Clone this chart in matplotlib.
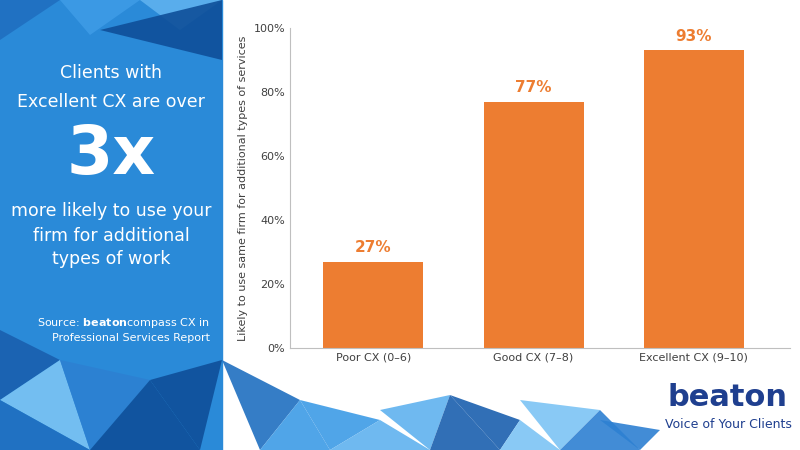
import matplotlib
matplotlib.use("Agg")
import matplotlib.pyplot as plt
from matplotlib.patches import Polygon, Rectangle

categories = ["Poor CX (0–6)", "Good CX (7–8)", "Excellent CX (9–10)"]
values = [27, 77, 93]
yticks = [0, 20, 40, 60, 80, 100]

fig = plt.figure(figsize=(8, 4.5), dpi=100)
W, H = 800, 450
def fx(x): return x / W
def fy(y): return 1 - y / H

fig.patches.append(Rectangle((0, 0), fx(222), 1, transform=fig.transFigure, color="#2a8ad8", zorder=0))
tris = [
    [(0,0),(60,0),(0,40)], [(60,0),(140,0),(90,35)], [(140,0),(222,0),(180,30)],
    [(0,330),(60,360),(0,400)], [(0,400),(60,360),(90,450)], [(60,360),(150,380),(90,450)],
    [(150,380),(222,360),(200,450)], [(222,360),(300,400),(260,450)], [(300,400),(380,420),(330,450)],
    [(380,410),(450,395),(430,450)], [(450,395),(520,420),(500,450)], [(520,400),(600,410),(560,450)],
    [(600,420),(660,430),(640,450)], [(90,450),(150,380),(200,450)], [(0,450),(0,400),(90,450)],
    [(260,450),(300,400),(330,450)], [(330,450),(380,420),(430,450)], [(430,450),(450,395),(500,450)],
    [(500,450),(520,420),(560,450)], [(560,450),(600,410),(640,450)], [(100,30),(222,0),(222,60)],
]
cols = ["#1f6fc0", "#3d9be6", "#5fb2ef", "#1a5fae", "#7cc4f4", "#2d80d2", "#0f4f99"]
for i, t in enumerate(tris):
    fig.patches.append(Polygon([(fx(x), fy(y)) for x, y in t], closed=True, transform=fig.transFigure,
                               color=cols[i % len(cols)], alpha=0.9, zorder=1, lw=0))

tc = "white"
fs = 12.5
fig.text(fx(111), fy(73), "Clients with", color=tc, fontsize=fs, ha="center", va="center")
fig.text(fx(111), fy(102), "Excellent CX are over", color=tc, fontsize=fs, ha="center", va="center")
fig.text(fx(111), fy(155), "3x", color=tc, fontsize=48, fontweight="heavy", ha="center", va="center")
fig.text(fx(111), fy(211), "more likely to use your", color=tc, fontsize=fs, ha="center", va="center")
fig.text(fx(111), fy(236), "firm for additional", color=tc, fontsize=fs, ha="center", va="center")
fig.text(fx(111), fy(259), "types of work", color=tc, fontsize=fs, ha="center", va="center")
fig.text(fx(210), fy(323), r"Source: $\mathbf{beaton}$compass CX in", color=tc, fontsize=8, ha="right", va="center")
fig.text(fx(210), fy(338), "Professional Services Report", color=tc, fontsize=8, ha="right", va="center")

ax = fig.add_axes([fx(290), fy(348), fx(500), (348 - 28) / H])
x = list(range(len(categories)))
ax.bar(x, values, width=0.625, color="#ed7d31", zorder=2)
for xi, v in zip(x, values):
    ax.text(xi, v + 2, f"{v}%", ha="center", va="bottom", color="#ed7d31", fontsize=11, fontweight="bold")
ax.set_xlim(-0.52, 2.6)
ax.set_ylim(0, 100)
ax.set_yticks(yticks)
ax.set_yticklabels([f"{t}%" for t in yticks], fontsize=8, color="#404040")
ax.set_xticks(x)
ax.set_xticklabels(categories, fontsize=8, color="#404040")
ax.tick_params(length=0)
for s in ["top", "right"]:
    ax.spines[s].set_visible(False)
ax.spines["left"].set_color("#bfbfbf")
ax.spines["bottom"].set_color("#bfbfbf")
ax.set_ylabel("Likely to use same firm for additional types of services", fontsize=8, color="#404040")

fig.text(fx(728), fy(398), "beaton", color="#1f3f8f", fontsize=22, fontweight="bold", ha="center", va="center")
fig.text(fx(728), fy(424), "Voice of Your Clients", color="#1f3f8f", fontsize=9, ha="center", va="center")

fig.savefig("out.png", dpi=100)
